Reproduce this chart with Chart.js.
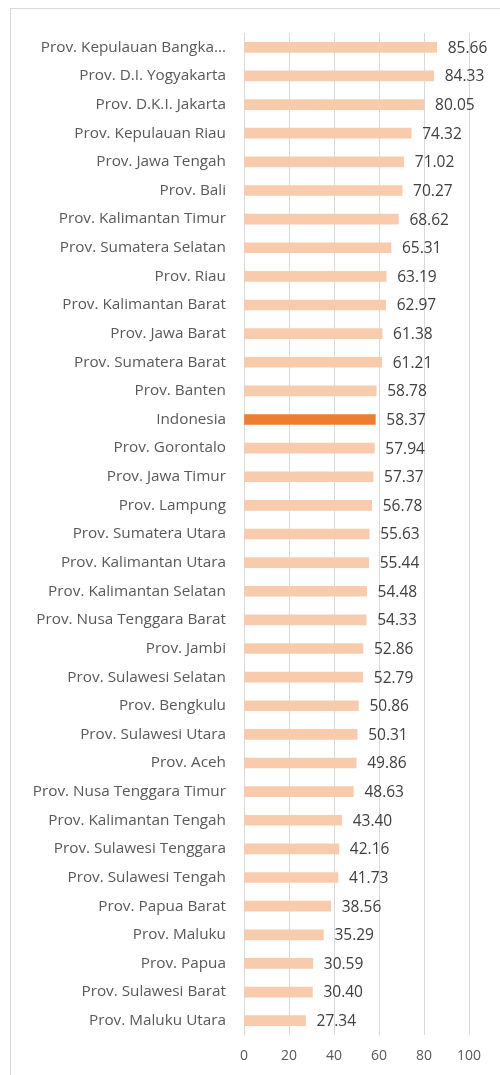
<!DOCTYPE html>
<html>
<head>
<meta charset="utf-8">
<script src="https://cdn.jsdelivr.net/npm/chart.js@4/dist/chart.umd.min.js"></script>
<style>
  html, body { margin: 0; padding: 0; background: #fff; }
  #wrap { position: relative; width: 500px; height: 1075px; }
</style>
</head>
<body>
<div id="wrap"><canvas id="chart"></canvas></div>
<script>
const provinces = [
  'Prov. Kepulauan Bangka...', 'Prov. D.I. Yogyakarta', 'Prov. D.K.I. Jakarta', 'Prov. Kepulauan Riau',
  'Prov. Jawa Tengah', 'Prov. Bali', 'Prov. Kalimantan Timur', 'Prov. Sumatera Selatan',
  'Prov. Riau', 'Prov. Kalimantan Barat', 'Prov. Jawa Barat', 'Prov. Sumatera Barat',
  'Prov. Banten', 'Indonesia', 'Prov. Gorontalo', 'Prov. Jawa Timur',
  'Prov. Lampung', 'Prov. Sumatera Utara', 'Prov. Kalimantan Utara', 'Prov. Kalimantan Selatan',
  'Prov. Nusa Tenggara Barat', 'Prov. Jambi', 'Prov. Sulawesi Selatan', 'Prov. Bengkulu',
  'Prov. Sulawesi Utara', 'Prov. Aceh', 'Prov. Nusa Tenggara Timur', 'Prov. Kalimantan Tengah',
  'Prov. Sulawesi Tenggara', 'Prov. Sulawesi Tengah', 'Prov. Papua Barat', 'Prov. Maluku',
  'Prov. Papua', 'Prov. Sulawesi Barat', 'Prov. Maluku Utara'
];
const scores = [
  85.66, 84.33, 80.05, 74.32,
  71.02, 70.27, 68.62, 65.31,
  63.19, 62.97, 61.38, 61.21,
  58.78, 58.37, 57.94, 57.37,
  56.78, 55.63, 55.44, 54.48,
  54.33, 52.86, 52.79, 50.86,
  50.31, 49.86, 48.63, 43.40,
  42.16, 41.73, 38.56, 35.29,
  30.59, 30.40, 27.34
];
const xTicks = [0, 20, 40, 60, 80, 100];
const highlight = 'Indonesia';

const barColors = provinces.map(p => p === highlight ? '#ED7D31' : '#F8CBAD');

// bingkai tipis di sekeliling area chart
const framePlugin = {
  id: 'frame',
  beforeDraw(chart) {
    const ctx = chart.ctx;
    ctx.save();
    ctx.strokeStyle = '#D9D9D9';
    ctx.lineWidth = 1;
    ctx.strokeRect(10.5, 8.5, 700, 1200);
    ctx.restore();
  }
};

// label nilai di ujung kanan batang
const valueLabels = {
  id: 'valueLabels',
  afterDatasetsDraw(chart) {
    const ctx = chart.ctx;
    const meta = chart.getDatasetMeta(0);
    ctx.save();
    ctx.font = '15.5px "Open Sans", sans-serif';
    ctx.fillStyle = '#404040';
    ctx.textAlign = 'left';
    ctx.textBaseline = 'middle';
    meta.data.forEach((bar, i) => {
      ctx.fillText(scores[i].toFixed(2), bar.x + 11, bar.y + 1);
    });
    ctx.restore();
  }
};

new Chart(document.getElementById('chart'), {
  type: 'bar',
  data: {
    labels: provinces,
    datasets: [{
      data: scores,
      backgroundColor: barColors,
      barThickness: 10,
      borderWidth: 0
    }]
  },
  options: {
    indexAxis: 'y',
    responsive: true,
    maintainAspectRatio: false,
    animation: false,
    layout: { padding: { top: 33, right: 31, left: 0, bottom: 0 } },
    plugins: { legend: { display: false }, tooltip: { enabled: false } },
    scales: {
      x: {
        min: 0,
        max: 100,
        afterBuildTicks: s => { s.ticks = xTicks.map(v => ({ value: v })); },
        grid: { color: '#D9D9D9', drawTicks: false },
        border: { display: false },
        ticks: { color: '#595959', font: { family: 'Open Sans', size: 14 }, padding: 13 },
        afterFit: s => { s.height = 40; }
      },
      y: {
        grid: { display: false, drawTicks: false },
        border: { display: false },
        ticks: { color: '#595959', font: { family: 'Open Sans', size: 15.3 }, padding: 18, autoSkip: false },
        afterFit: s => { s.width = 244; }
      }
    }
  },
  plugins: [framePlugin, valueLabels]
});
</script>
</body>
</html>
